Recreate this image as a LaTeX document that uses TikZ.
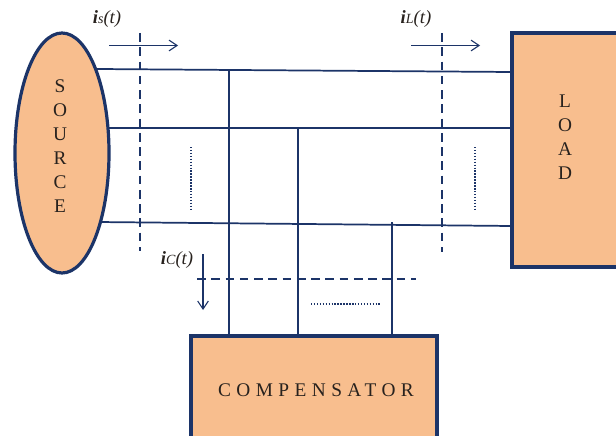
\documentclass[tikz,border=0pt]{standalone}
\usepackage{fontspec}
\setmainfont{Liberation Serif}
\usepackage{tikz}
\usetikzlibrary{arrows.meta,positioning,shapes.geometric}
\definecolor{cline}{RGB}{28,52,104}
\definecolor{cfill}{RGB}{248,190,142}
\definecolor{ctxt}{RGB}{40,34,30}
\tikzset{
  blk/.style={draw=cline, fill=cfill, line width=2.4pt, inner sep=0pt},
  srcblk/.style={blk, ellipse, minimum width=70.5pt, minimum height=180pt},
  rectblk/.style={blk, rectangle},
  wire/.style={cline, line width=1.3pt},
  cut/.style={cline, line width=1.1pt, dash pattern=on 6.5pt off 4.2pt},
  dots/.style={cline, line width=1.3pt, dash pattern=on 1.1pt off 1.1pt},
  iarr/.style={-{Straight Barb[length=6pt,width=8pt]}, cline, line width=0.8pt},
  stack/.style={font=\fontsize{14.5}{18}\selectfont, text=ctxt, align=center},
  ilab/.style={font=\fontsize{14}{16}\selectfont, text=ctxt},
}
\newcommand{\curlab}[1]{\textbf{\textit{i}}{\fontsize{10.5}{12}\selectfont\textit{#1}}\textit{(t)}}
\begin{document}
\begin{tikzpicture}[x=0.75pt,y=-0.75pt]
  \useasboundingbox (0,0) rectangle (616,435);
  \clip (0,0) rectangle (616,435);
  % line ends
  \coordinate (s1) at (97,69);   \coordinate (l1) at (512,72);
  \coordinate (s2) at (109,128); \coordinate (l2) at (512,128);
  \coordinate (s3) at (97,222);  \coordinate (l3) at (512,226);
  \draw[wire] (s1) -- (l1);
  \draw[wire] (s2) -- (l2);
  \draw[wire] (s3) -- (l3);
  \coordinate (t1) at (229,70);  \coordinate (c1) at (229,336);
  \coordinate (t2) at (298,128); \coordinate (c2) at (298,336);
  \coordinate (t3) at (392,222); \coordinate (c3) at (392,336);
  \draw[wire] (t1) -- (c1);
  \draw[wire] (t2) -- (c2);
  \draw[wire] (t3) -- (c3);
  % blocks
  \node[srcblk] (source) at (62,153) {};
  \node[rectblk, minimum width=81pt, minimum height=175.5pt] (load) at (566,150) {};
  \node[rectblk, minimum width=184.5pt, minimum height=81pt] (comp) at (314,390) {};
  \node[stack] (srclab) at (60,146) {S\\O\\U\\R\\C\\E};
  \node[stack] (loadlab) at (565,137) {L\\O\\A\\D};
  \node[stack] (complab) at (316,390) {\addfontfeatures{LetterSpace=28}COMPENSATOR};
  % measuring cuts
  \coordinate (cs1) at (140,33); \coordinate (cs2) at (140,251);
  \coordinate (cl1) at (442,33); \coordinate (cl2) at (442,252);
  \coordinate (cc1) at (197,279); \coordinate (cc2) at (416,279);
  \draw[cut] (cs1) -- (cs2);
  \draw[cut] (cl1) -- (cl2);
  \draw[cut] (cc1) -- (cc2);
  % dotted
  \coordinate (d1) at (191,147); \coordinate (d2) at (191,209);
  \coordinate (d3) at (475,147); \coordinate (d4) at (475,209);
  \coordinate (d5) at (311,304); \coordinate (d6) at (381,304);
  \draw[dots] (d1) -- (d2);
  \draw[dots] (d3) -- (d4);
  \draw[dots] (d5) -- (d6);
  % currents
  \coordinate (a1) at (109,45.5); \coordinate (a2) at (178,45.5);
  \coordinate (a3) at (411,45.5); \coordinate (a4) at (480,45.5);
  \coordinate (a5) at (203,254);  \coordinate (a6) at (203,310);
  \draw[iarr] (a1) -- (a2);
  \draw[iarr] (a3) -- (a4);
  \draw[iarr] (a5) -- (a6);
  \node[ilab] (islab) at (107,19) {\curlab{s}};
  \node[ilab] (illab) at (416,19) {\curlab{L}};
  \node[ilab] (iclab) at (177,260) {\curlab{C}};
\end{tikzpicture}
\end{document}
